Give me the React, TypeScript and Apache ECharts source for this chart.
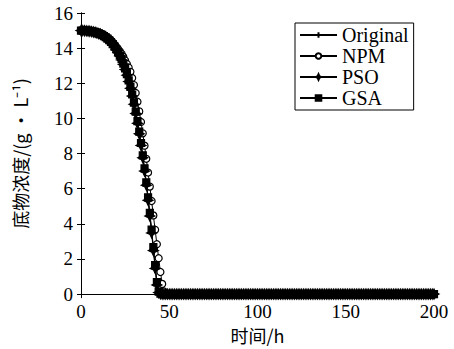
import React, { useEffect, useRef } from "react";
import * as echarts from "echarts";

const seriesNames = ["Original", "NPM", "PSO", "GSA"];
const xTicks = [0, 50, 100, 150, 200];
const yTicks = [0, 2, 4, 6, 8, 10, 12, 14, 16];

// hourly values, t = 0 .. 50 h
const originalHead = [
  15.0, 15.0, 14.99, 14.99, 14.98, 14.97, 14.95, 14.93, 14.91, 14.88,
  14.84, 14.8, 14.75, 14.69, 14.62, 14.54, 14.45, 14.34, 14.22, 14.08,
  13.93, 13.76, 13.57, 13.36, 13.1, 12.82, 12.5, 12.15, 11.76, 11.33,
  10.86, 10.35, 9.8, 9.2, 8.55, 7.85, 7.1, 6.3, 5.45, 4.55,
  3.6, 2.6, 1.58, 0.62, 0.12, 0.02, 0, 0, 0, 0, 0,
];
const npmHead = [
  15.0, 15.0, 14.99, 14.99, 14.98, 14.97, 14.96, 14.94, 14.92, 14.9,
  14.87, 14.83, 14.79, 14.74, 14.68, 14.61, 14.53, 14.44, 14.33, 14.21,
  14.08, 13.95, 13.82, 13.68, 13.5, 13.3, 13.1, 12.9, 12.65, 12.3,
  11.9, 11.45, 10.95, 10.4, 9.8, 9.15, 8.45, 7.7, 6.92, 6.12,
  5.3, 4.48, 3.66, 2.84, 2.04, 1.26, 0.58, 0.15, 0.02, 0, 0,
];
const psoHead = [
  15.0, 15.0, 14.99, 14.98, 14.97, 14.96, 14.94, 14.92, 14.9, 14.87,
  14.83, 14.79, 14.74, 14.68, 14.61, 14.53, 14.44, 14.33, 14.21, 14.07,
  13.91, 13.74, 13.55, 13.33, 13.07, 12.78, 12.46, 12.1, 11.71, 11.27,
  10.8, 10.28, 9.72, 9.12, 8.46, 7.76, 7.0, 6.2, 5.34, 4.44,
  3.48, 2.48, 1.46, 0.52, 0.09, 0.01, 0, 0, 0, 0, 0,
];
const gsaHead = [
  15.0, 15.0, 14.99, 14.99, 14.98, 14.97, 14.95, 14.93, 14.91, 14.88,
  14.84, 14.8, 14.75, 14.69, 14.62, 14.54, 14.45, 14.35, 14.23, 14.09,
  13.94, 13.77, 13.58, 13.37, 13.12, 12.84, 12.52, 12.17, 11.79, 11.36,
  10.9, 10.39, 9.84, 9.25, 8.6, 7.9, 7.16, 6.36, 5.51, 4.62,
  3.67, 2.67, 1.65, 0.68, 0.14, 0.02, 0, 0, 0, 0, 0,
];
// t = 51 .. 200 h (all series at zero)
const zeroTail = [
  0, 0, 0, 0, 0, 0, 0, 0, 0, 0, 0, 0, 0, 0, 0, 0, 0, 0, 0, 0, 0, 0, 0, 0, 0,
  0, 0, 0, 0, 0, 0, 0, 0, 0, 0, 0, 0, 0, 0, 0, 0, 0, 0, 0, 0, 0, 0, 0, 0, 0,
  0, 0, 0, 0, 0, 0, 0, 0, 0, 0, 0, 0, 0, 0, 0, 0, 0, 0, 0, 0, 0, 0, 0, 0, 0,
  0, 0, 0, 0, 0, 0, 0, 0, 0, 0, 0, 0, 0, 0, 0, 0, 0, 0, 0, 0, 0, 0, 0, 0, 0,
  0, 0, 0, 0, 0, 0, 0, 0, 0, 0, 0, 0, 0, 0, 0, 0, 0, 0, 0, 0, 0, 0, 0, 0, 0,
  0, 0, 0, 0, 0, 0, 0, 0, 0, 0, 0, 0, 0, 0, 0, 0, 0, 0, 0, 0, 0, 0, 0, 0, 0,
];

const FONT = "Liberation Serif";
const CJK = "Noto Sans CJK SC";

const toPairs = (vals: number[]) => vals.map((v, i) => [i, v]);

const symbols = [
  "path://M0,5L10,5M5,0L5,10",
  "circle",
  "path://M5,0L6.6,3.4L10,5L6.6,6.6L5,10L3.4,6.6L0,5L3.4,3.4Z",
  "rect",
];
const symbolSizes = [7, 7, 10, 7];
// drawing order: NPM first (beneath), filled-marker series above it
const drawOrder = [1, 3, 0, 2];

export default function App() {
  const ref = useRef<HTMLDivElement>(null);
  useEffect(() => {
    if (!ref.current) return;
    const chart = echarts.init(ref.current, null, { renderer: "svg" });
    const heads = [originalHead, npmHead, psoHead, gsaHead];
    const series = drawOrder.map((k) => ({
      name: seriesNames[k],
      type: "line" as const,
      data: toPairs(heads[k].concat(zeroTail)),
      symbol: symbols[k],
      symbolSize: symbolSizes[k],
      showAllSymbol: true,
      lineStyle: { color: "#000", width: 1 },
      itemStyle: {
        color: k === 1 ? "#fff" : "#000",
        borderColor: "#000",
        borderWidth: k === 0 ? 1.5 : 1.2,
      },
    }));
    const axisCommon = {
      axisLine: { show: true, lineStyle: { color: "#000", width: 1 } },
      axisTick: { show: true, inside: true, length: 4, lineStyle: { color: "#000" } },
      splitLine: { show: false },
    };
    chart.setOption({
      animation: false,
      backgroundColor: "#fff",
      grid: { left: 81, right: 20, top: 13, bottom: 52 },
      legend: {
        orient: "vertical",
        left: 295,
        top: 23,
        data: seriesNames,
        itemWidth: 37,
        itemHeight: 7,
        itemGap: 1,
        padding: [2, 5, 2, 4],
        borderColor: "#000",
        borderWidth: 1,
        backgroundColor: "#fff",
        textStyle: { fontFamily: FONT, fontSize: 20, color: "#000", lineHeight: 20 },
      },
      xAxis: [
        {
          type: "value",
          min: 0,
          max: 200,
          interval: 50,
          ...axisCommon,
          axisLabel: { color: "#000", fontFamily: FONT, fontSize: 19, margin: 8 },
          name: "时间/h",
          nameLocation: "middle",
          nameGap: 30,
          nameTextStyle: { color: "#000", fontFamily: CJK, fontSize: 18 },
        },
        {
          type: "value",
          min: 0,
          max: 200,
          interval: 50,
          position: "top",
          ...axisCommon,
          axisLabel: { show: false },
        },
      ],
      yAxis: [
        {
          type: "value",
          min: 0,
          max: 16,
          interval: 2,
          ...axisCommon,
          axisLabel: { color: "#000", fontFamily: FONT, fontSize: 19, margin: 8 },
          name: "底物浓度/(g · L⁻¹)",
          nameLocation: "middle",
          nameGap: 52,
          nameTextStyle: { color: "#000", fontFamily: CJK, fontSize: 18 },
        },
        {
          type: "value",
          min: 0,
          max: 16,
          interval: 2,
          position: "right",
          ...axisCommon,
          axisLabel: { show: false },
        },
      ],
      series,
    });
    return () => chart.dispose();
  }, []);
  return <div ref={ref} style={{ width: 454, height: 349, position: "absolute", left: 0, top: 0 }} />;
}
